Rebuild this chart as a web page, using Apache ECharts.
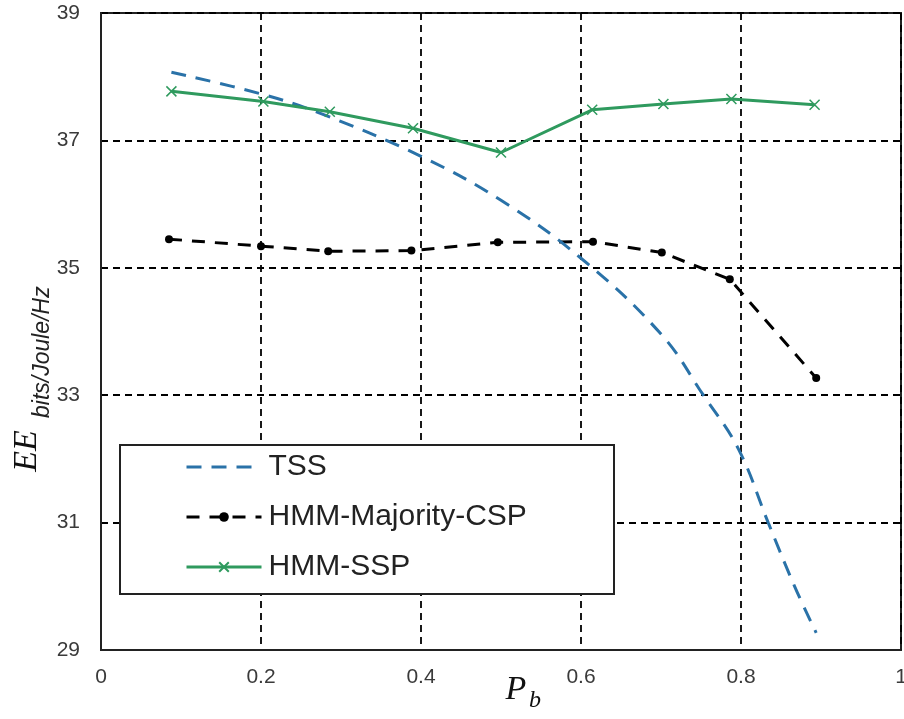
<!DOCTYPE html>
<html>
<head>
<meta charset="utf-8">
<script src="https://cdn.jsdelivr.net/npm/echarts@6/dist/echarts.min.js"></script>
<style>
  html, body { margin: 0; padding: 0; background: #fff; overflow: hidden; }
  #chart { width: 904px; height: 719px; }
</style>
</head>
<body>
<div id="chart"></div>
<script>
// Energy efficiency versus busy probability P_b for three sensing schemes
const seriesNames = ['TSS', 'HMM-Majority-CSP', 'HMM-SSP'];

const tssPb = [0.088, 0.2, 0.275, 0.4, 0.5, 0.6, 0.7, 0.753, 0.797, 0.834, 0.867, 0.894];
const tssEE = [38.07, 37.73, 37.42, 36.75, 36.06, 35.15, 33.96, 33.0, 32.15, 31.0, 30.0, 29.27];

const majorityPb = [0.085, 0.2, 0.284, 0.388, 0.496, 0.615, 0.701, 0.786, 0.894];
const majorityEE = [35.45, 35.34, 35.26, 35.27, 35.4, 35.41, 35.24, 34.82, 33.27];

const sspPb = [0.088, 0.203, 0.286, 0.39, 0.5, 0.614, 0.703, 0.788, 0.892];
const sspEE = [37.77, 37.61, 37.45, 37.19, 36.81, 37.48, 37.57, 37.65, 37.56];

const xTicks = { min: 0, max: 1, step: 0.2 };
const yTicks = { min: 29, max: 39, step: 2 };

const pairs = (xs, ys) => xs.map((x, i) => [x, ys[i]]);

const chart = echarts.init(document.getElementById('chart'), null, { renderer: 'canvas' });

const gridDash = { type: [7, 5], color: '#000', width: 1.8 };
const tickFont = { fontFamily: 'Liberation Sans, Arial, sans-serif', fontSize: 21, color: '#3a3a3a' };
const hidden = 'rgba(0,0,0,0)';

chart.setOption({
  animation: false,
  backgroundColor: '#ffffff',
  grid: {
    left: 101, right: 3, top: 13, bottom: 69,
    outerBoundsMode: 'none',
    containLabel: false,
    show: true, borderColor: '#222', borderWidth: 2, backgroundColor: 'transparent'
  },
  xAxis: {
    type: 'value',
    min: xTicks.min, max: xTicks.max, interval: xTicks.step,
    axisLine: { show: true, lineStyle: { color: '#222', width: 2 } },
    axisTick: { show: false },
    axisLabel: Object.assign({ margin: 17 }, tickFont),
    splitLine: { show: true, lineStyle: gridDash }
  },
  yAxis: {
    type: 'value',
    min: yTicks.min, max: yTicks.max, interval: yTicks.step,
    axisLine: { show: true, lineStyle: { color: '#222', width: 2 } },
    axisTick: { show: false },
    axisLabel: Object.assign({ margin: 21 }, tickFont),
    splitLine: { show: true, lineStyle: gridDash }
  },
  legend: {
    orient: 'vertical',
    left: 185, top: 452,
    z: 20,
    itemWidth: 75, itemHeight: 12, itemGap: 20,
    padding: 0,
    textStyle: { fontFamily: 'Liberation Sans, Arial, sans-serif', fontSize: 30, color: '#222', lineHeight: 30, padding: [0, 0, 0, 2] },
    data: [
      { name: seriesNames[0], itemStyle: { color: hidden, borderColor: hidden, borderWidth: 0 },
        lineStyle: { width: 3, type: [15, 10] } },
      { name: seriesNames[1], lineStyle: { width: 3, type: [13, 10] } },
      { name: seriesNames[2], lineStyle: { width: 3 } }
    ]
  },
  graphic: [
    {
      type: 'rect', z: 15,
      shape: { x: 120, y: 445, width: 494, height: 149 },
      style: { fill: '#fff', stroke: '#222', lineWidth: 2 }
    },
    {
      type: 'text', z: 20, x: 27, y: 451, rotation: Math.PI / 2,
      style: { text: 'EE', fontFamily: 'Liberation Serif, Times New Roman, serif', fontStyle: 'italic', fontSize: 34, fill: '#111', align: 'center', verticalAlign: 'middle' }
    },
    {
      type: 'text', z: 20, x: 43, y: 418, rotation: Math.PI / 2,
      style: { text: 'bits/Joule/Hz', fontFamily: 'Liberation Sans, Arial, sans-serif', fontStyle: 'italic', fontSize: 23, fill: '#222', align: 'left', verticalAlign: 'middle' }
    },
    {
      type: 'text', z: 20, x: 516, y: 690,
      style: { text: 'P', fontFamily: 'Liberation Serif, Times New Roman, serif', fontStyle: 'italic', fontSize: 34, fill: '#111', align: 'center', verticalAlign: 'middle' }
    },
    {
      type: 'text', z: 20, x: 535, y: 701,
      style: { text: 'b', fontFamily: 'Liberation Serif, Times New Roman, serif', fontStyle: 'italic', fontSize: 24, fill: '#111', align: 'center', verticalAlign: 'middle' }
    }
  ],
  series: [
    {
      name: seriesNames[0], type: 'line', smooth: 0.4, symbol: 'none', z: 4,
      color: '#2a72a8',
      lineStyle: { color: '#2a72a8', width: 3, type: [15, 10] },
      data: pairs(tssPb, tssEE)
    },
    {
      name: seriesNames[1], type: 'line', symbol: 'circle', symbolSize: 8, z: 3,
      color: '#000',
      itemStyle: { color: '#000' },
      lineStyle: { color: '#000', width: 3, type: [13, 10] },
      data: pairs(majorityPb, majorityEE)
    },
    {
      name: seriesNames[2], type: 'line', z: 5,
      symbol: 'path://M0,0L10,10M10,0L0,10', symbolSize: 10,
      color: '#2f9a5e',
      itemStyle: { color: '#2f9a5e', borderColor: '#2f9a5e', borderWidth: 1.5 },
      lineStyle: { color: '#2f9a5e', width: 3 },
      data: pairs(sspPb, sspEE)
    }
  ]
});
</script>
</body>
</html>
